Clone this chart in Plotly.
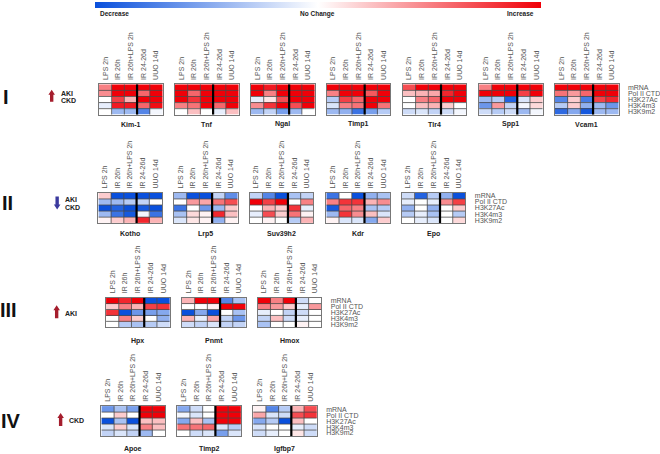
import plotly.graph_objects as go

W, H = 660, 454
conditions = ["LPS 2h", "IR 26h", "IR 26h+LPS 2h", "IR 24-26d", "UUO 14d"]
marks = ["mRNA", "Pol II CTD", "H3K27Ac", "H3K4m3", "H3K9m2"]

Kim1 = [[.5,1,1,1,1],[.45,1,1,.6,1],[0,.75,.3,1,1],[-.1,.9,.9,.6,.95],[0,-.4,-.4,-.7,-.05]]
Tnf = [[1,1,1,1,1],[1,.6,1,1,1],[1,.8,1,1,1],[.5,.55,1,.6,1],[0,.25,0,-.1,.25]]
Ngal = [[1,.9,1,1,1],[1,.5,1,1,1],[-.1,.1,.7,1,1],[.45,.8,1,.7,1],[-.4,-.25,-.55,-.4,0]]
Timp1 = [[1,1,1,1,1],[.5,1,1,.65,1],[-.3,.75,.6,1,1],[-.15,.5,.55,1,.55],[-.4,-.45,-.8,-.55,-.3]]
Tlr4 = [[.7,1,1,1,1],[.25,.3,.35,.85,1],[0,.5,.6,1,1],[0,.25,.3,.2,0],[-.2,-.15,-.25,-.2,-.05]]
Spp1 = [[.5,1,1,1,1],[1,1,1,.75,1],[-.4,-.3,-.9,-.15,.2],[-.6,.4,-.25,-.05,.15],[-.2,-.3,-.2,-.4,-.05]]
Vcam1 = [[1,1,1,1,1],[.55,.4,.6,1,1],[-.7,.2,-.75,.75,.85],[-.3,.2,-.45,-.4,-.6],[-.85,-.5,-.95,-.4,-.4]]
Kotho = [[.2,-1,-1,-1,-1],[-.4,-.4,-.3,-.25,0],[-1,-.9,-1,-.95,-1],[-.4,-.8,-.95,-.05,-.8],[.05,.2,.3,.85,.3]]
Lrp5 = [[-.4,-1,-1,-.25,-.65],[0,.4,.35,.55,.7],[-.8,0,-.6,-.4,.2],[-.35,.15,.05,.85,.25],[-.15,.1,.05,-.45,.05]]
Suv39h2 = [[-.25,-.7,-1,-.35,-.25],[1,.75,1,0,.5],[0,.3,.2,.8,-.1],[-.1,.7,.2,.55,.05],[0,.05,0,-.3,.3]]
Kdr = [[-.8,0,-1,-.45,-.35],[.5,.8,.8,.3,.45],[-.95,.6,.5,-.35,-.3],[-.4,.8,.45,.25,-.15],[.05,-.15,-.15,-.5,.2]]
Epo = [[-.2,-.9,-.3,-.45,-1],[-.1,0,-.1,.45,.75],[-.45,0,-.45,0,.2],[-.3,-.1,-.35,0,-.3],[0,-.1,-.15,0,.15]]
Hpx = [[1,.85,1,-1,-1],[.2,.5,.3,.75,.8],[.8,-1,-.6,-.55,-.5],[0,.5,.2,0,-.45],[0,-.3,-.35,-.3,-.2]]
Pnmt = [[.3,1,1,-.7,-.35],[0,0,.05,1,1],[-1,-.5,-1,0,-.35],[.3,-.1,.35,-.25,-.6],[-.2,-.25,-.15,-.25,-.25]]
Hmox = [[1,.5,1,-.2,0],[.5,.4,.2,-.1,.4],[-.1,0,-.25,-.2,0],[-.25,.25,-.2,-.1,0],[-.35,0,0,.05,0]]
Apoe = [[-.6,-.35,-.55,1,1],[0,.2,0,1,1],[-1,-.35,-1,.25,.25],[-.15,.2,-.15,.5,.25],[-.25,-.15,-.25,-.4,0]]
Timp2 = [[-.5,-.2,0,1,1],[-.05,-.15,0,1,1],[-.5,.25,-.35,1,1],[.55,.55,.6,-.15,-.3],[0,-.2,-.15,-.55,-.15]]
Igfbp7 = [[.05,-.7,-.3,.3,.7],[.35,-.15,-.2,.7,.8],[-.5,-.3,-1,.25,0],[-.15,0,0,-.1,-.2],[-.2,-.1,0,.1,-.2]]

# (gene, values, left px); width of every heat map is 64 px
rows = [
    dict(numeral="I", top=83.5, bottom=114, name_y=123.5, panels=[
        ("Kim-1", Kim1, 99.5), ("Tnf", Tnf, 176), ("Ngal", Ngal, 252.5), ("Timp1", Timp1, 328.5),
        ("Tlr4", Tlr4, 405.3), ("Spp1", Spp1, 482), ("Vcam1", Vcam1, 558.3)]),
    dict(numeral="II", top=192.3, bottom=222.7, name_y=233.5, panels=[
        ("Kotho", Kotho, 99), ("Lrp5", Lrp5, 175), ("Suv39h2", Suv39h2, 251.3), ("Kdr", Kdr, 328.3), ("Epo", Epo, 404.3)]),
    dict(numeral="III", top=297.3, bottom=327, name_y=340.5, panels=[
        ("Hpx", Hpx, 106.7), ("Pnmt", Pnmt, 183), ("Hmox", Hmox, 259.3)]),
    dict(numeral="IV", top=406, bottom=436, name_y=449, panels=[
        ("Apoe", Apoe, 102), ("Timp2", Timp2, 178.3), ("Igfbp7", Igfbp7, 254.7)]),
]

FONT = "Liberation Sans, Arial, sans-serif"
px = lambda v: v / W
py = lambda v: 1 - v / H

fig = go.Figure()
layout_axes, shapes, annotations = {}, [], []

def label(text, x, y, size=7, bold=True, color="#222", anchor="center"):
    annotations.append(dict(text=f"<b>{text}</b>" if bold else text, x=px(x), y=py(y), xref="paper", yref="paper",
                            xanchor=anchor, yanchor="middle", showarrow=False,
                            font=dict(family=FONT, size=size, color=color)))

n = 0
for row in rows:
    for i, (gene, values, left) in enumerate(row["panels"]):
        n += 1
        last = i == len(row["panels"]) - 1
        fig.add_trace(go.Heatmap(z=values, x=conditions, y=marks, coloraxis="coloraxis",
                                 xaxis=f"x{n}", yaxis=f"y{n}"))
        layout_axes[f"xaxis{n}"] = dict(domain=[px(left), px(left + 64)], anchor=f"y{n}", side="top",
                                        tickmode="array", tickvals=conditions, ticktext=conditions,
                                        tickangle=-90, ticks="outside", ticklen=2, tickcolor="rgba(0,0,0,0)",
                                        tickfont=dict(family=FONT, size=7, color="#555"),
                                        showline=True, mirror=True, linecolor="#777", linewidth=1,
                                        showgrid=False, zeroline=False, range=[-.5, 4.5])
        layout_axes[f"yaxis{n}"] = dict(domain=[py(row["bottom"]), py(row["top"])], anchor=f"x{n}", side="right",
                                        tickmode="array", tickvals=marks, ticktext=marks,
                                        showticklabels=last, ticks="outside" if last else "", ticklen=7,
                                        tickcolor="rgba(0,0,0,0)",
                                        tickfont=dict(family=FONT, size=7, color="#555"),
                                        showline=True, mirror=True, linecolor="#777", linewidth=1,
                                        showgrid=False, zeroline=False, range=[4.5, -.5])
        # thin cell borders, drawn in each panel's own data coordinates
        for k in (0.5, 1.5, 3.5):
            shapes.append(dict(type="line", xref=f"x{n}", yref=f"y{n}", x0=k, x1=k, y0=-.5, y1=4.5,
                               line=dict(color="#4a4a4a", width=0.8), layer="above"))
        for k in (0.5, 1.5, 2.5, 3.5):
            shapes.append(dict(type="line", xref=f"x{n}", yref=f"y{n}", x0=-.5, x1=4.5, y0=k, y1=k,
                               line=dict(color="#4a4a4a", width=0.8), layer="above"))
        shapes.append(dict(type="line", xref=f"x{n}", yref=f"y{n}", x0=2.5, x1=2.5, y0=-.5, y1=4.5,
                           line=dict(color="black", width=2.2), layer="above"))
        label(gene, left + 32, row["name_y"])

# Section numerals
label("I", 6, 96, size=20, color="#111")
label("II", 8, 202, size=20, color="#111")
label("III", 9, 310, size=20, color="#111")
label("IV", 11, 421, size=20, color="#111")

# Direction arrows
def arrow(x, y0, y1, color):
    d = 1 if y1 > y0 else -1
    path = (f"M {px(x-1.7)} {py(y0)} L {px(x+1.7)} {py(y0)} L {px(x+1.7)} {py(y1-d*5)} L {px(x+3.3)} {py(y1-d*5)} "
            f"L {px(x)} {py(y1)} L {px(x-3.3)} {py(y1-d*5)} L {px(x-1.7)} {py(y1-d*5)} Z")
    shapes.append(dict(type="path", xref="paper", yref="paper", path=path, fillcolor=color, line=dict(width=0)))

arrow(52, 101, 89, "#a51d2d")
arrow(57.5, 196, 209, "#3b3a9e")
arrow(57, 318, 305, "#a51d2d")
arrow(61, 426, 413, "#a51d2d")

label("AKI", 59, 92.3, anchor="left")
label("CKD", 59, 99.5, anchor="left")
label("AKI", 63, 199.3, anchor="left")
label("CKD", 63, 206.5, anchor="left")
label("AKI", 63.5, 313, anchor="left")
label("CKD", 67.5, 420, anchor="left")

# Colour key captions
label("Decrease", 98.5, 13, size=6.5, anchor="left")
label("No Change", 319.5, 13, size=6.5)
label("Increase", 539, 13, size=6.5, anchor="right")

fig.update_layout(
    width=W, height=H, margin=dict(l=0, r=0, t=0, b=0), paper_bgcolor="white", plot_bgcolor="white",
    showlegend=False, shapes=shapes, annotations=annotations,
    coloraxis=dict(cmin=-1, cmax=1,
                   colorscale=[[0, "#0a50dc"], [.5, "#ffffff"], [1, "#f00008"]],
                   colorbar=dict(orientation="h", x=96/W, xanchor="left", y=1-1/H, yanchor="top",
                                 len=446, lenmode="pixels", thickness=6, thicknessmode="pixels",
                                 xpad=0, ypad=0, outlinewidth=0, ticks="", showticklabels=False)),
    **layout_axes)

fig.write_html("out.html", config=dict(displayModeBar=False), post_script="document.body.style.margin='0';")
